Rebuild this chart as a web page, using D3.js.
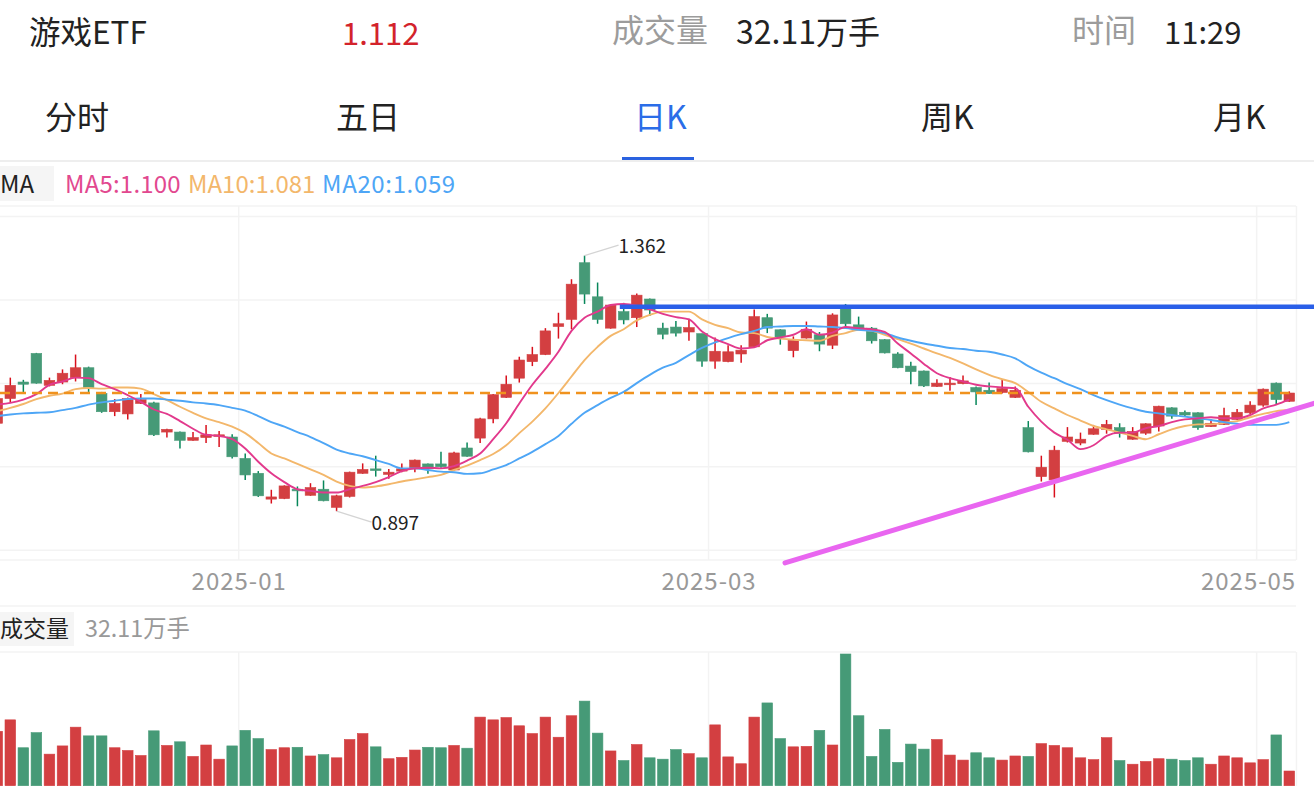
<!DOCTYPE html>
<html>
<head>
<meta charset="utf-8">
<script src="https://cdn.jsdelivr.net/npm/d3@7/dist/d3.min.js"></script>
<style>
html,body{margin:0;padding:0;background:#fff;overflow:hidden}
svg{display:block}
text{font-family:"Noto Sans CJK SC","Noto Sans",sans-serif}
</style>
</head>
<body>
<svg id="grafico" width="1314" height="802"></svg>
<script>
// valores (100 pregões, preço e volume em 万手)
const opens = [1.057,1.102,1.132,1.184,1.126,1.132,1.140,1.158,1.111,1.078,
  1.074,1.093,1.094,1.041,1.041,1.026,1.031,1.033,1.032,0.993,
  0.966,0.919,0.920,0.937,0.926,0.937,0.904,0.924,0.966,0.974,
  0.964,0.970,0.974,0.983,0.983,0.972,1.012,1.030,1.065,1.104,
  1.139,1.169,1.182,1.233,1.246,1.349,1.287,1.230,1.260,1.249,
  1.283,1.230,1.232,1.223,1.220,1.170,1.169,1.183,1.196,1.249,
  1.227,1.189,1.212,1.218,1.199,1.269,1.236,1.230,1.209,1.183,
  1.161,1.152,1.124,1.127,1.129,1.122,1.117,1.113,1.104,1.049,
  0.960,0.954,1.024,1.021,1.037,1.046,1.049,1.028,1.039,1.052,
  1.085,1.077,1.076,1.051,1.055,1.064,1.076,1.090,1.130,1.097];
const closes = [1.102,1.126,1.128,1.130,1.135,1.148,1.158,1.122,1.078,1.093,
  1.102,1.100,1.036,1.046,1.026,1.031,1.036,1.036,0.996,0.963,
  0.925,0.923,0.943,0.934,0.940,0.916,0.925,0.968,0.973,0.971,
  0.968,0.974,0.990,0.974,0.978,1.003,0.997,1.065,1.109,1.128,
  1.172,1.182,1.225,1.238,1.310,1.292,1.246,1.272,1.245,1.290,
  1.263,1.219,1.221,1.231,1.170,1.188,1.187,1.190,1.251,1.230,
  1.214,1.208,1.228,1.201,1.254,1.238,1.229,1.207,1.185,1.158,
  1.151,1.125,1.130,1.130,1.134,1.114,1.111,1.120,1.117,1.005,
  0.977,1.008,1.032,1.028,1.047,1.055,1.039,1.042,1.056,1.088,
  1.070,1.072,1.049,1.057,1.071,1.077,1.090,1.119,1.100,1.112];
const highs = [1.105,1.140,1.136,1.185,1.140,1.155,1.182,1.160,1.114,1.101,
  1.104,1.110,1.096,1.047,1.042,1.041,1.054,1.043,1.037,1.002,
  0.970,0.936,0.944,0.942,0.948,0.953,0.927,0.969,0.984,0.998,
  0.974,0.984,0.991,0.984,1.005,1.005,1.022,1.067,1.110,1.144,
  1.178,1.196,1.230,1.258,1.319,1.362,1.313,1.273,1.276,1.293,
  1.284,1.240,1.243,1.247,1.220,1.213,1.199,1.199,1.264,1.256,
  1.228,1.215,1.242,1.223,1.257,1.274,1.251,1.232,1.210,1.186,
  1.169,1.153,1.137,1.141,1.144,1.124,1.131,1.136,1.124,1.061,
  0.998,1.016,1.050,1.040,1.054,1.063,1.057,1.050,1.057,1.089,
  1.086,1.080,1.077,1.064,1.085,1.083,1.097,1.120,1.131,1.115];
const lows = [1.054,1.095,1.113,1.129,1.124,1.128,1.133,1.114,1.076,1.070,
  1.064,1.092,1.034,1.031,1.011,1.025,1.021,1.014,0.993,0.954,
  0.923,0.911,0.919,0.906,0.925,0.915,0.897,0.922,0.965,0.960,
  0.956,0.968,0.968,0.965,0.976,0.971,0.996,1.021,1.057,1.103,
  1.131,1.161,1.181,1.211,1.228,1.274,1.238,1.229,1.237,1.232,
  1.252,1.210,1.215,1.207,1.160,1.156,1.168,1.167,1.195,1.221,
  1.200,1.177,1.211,1.188,1.192,1.232,1.228,1.202,1.184,1.157,
  1.128,1.123,1.123,1.116,1.128,1.090,1.110,1.111,1.103,1.004,
  0.951,0.922,1.022,1.017,1.036,1.038,1.031,1.027,1.036,1.042,
  1.065,1.069,1.045,1.050,1.054,1.063,1.074,1.087,1.092,1.096];
const volumes = [119,144,83,116,69,87,128,109,109,83,
  77,66,120,88,96,64,89,58,87,121,
  103,79,83,84,65,68,61,101,114,85,
  59,62,78,84,83,88,82,150,144,149,
  131,114,150,106,153,185,115,76,55,90,
  61,58,79,70,61,133,63,48,150,181,
  103,85,86,121,89,288,153,64,123,51,
  91,80,101,67,56,72,61,56,65,64,
  92,88,83,61,57,105,55,47,53,59,
  58,55,61,47,65,61,50,57,111,32.11];
const ma5 = [1.091,1.094,1.100,1.110,1.127,1.133,1.140,1.139,1.128,1.119,
  1.108,1.096,1.082,1.074,1.061,1.047,1.036,1.034,1.028,1.011,
  0.987,0.966,0.950,0.937,0.934,0.931,0.931,0.937,0.943,0.950,
  0.959,0.970,0.975,0.976,0.975,0.979,0.989,1.002,1.028,1.057,
  1.093,1.127,1.156,1.187,1.225,1.249,1.260,1.272,1.274,1.271,
  1.264,1.256,1.250,1.246,1.224,1.210,1.201,1.193,1.195,1.208,
  1.213,1.218,1.228,1.218,1.222,1.232,1.230,1.228,1.223,1.202,
  1.184,1.165,1.148,1.139,1.133,1.127,1.124,1.122,1.121,1.087,
  1.060,1.040,1.027,1.010,1.017,1.034,1.040,1.040,1.048,1.052,
  1.059,1.064,1.066,1.068,1.066,1.066,1.072,1.084,1.091,1.100];
const ma10 = [1.079,1.085,1.092,1.101,1.107,1.111,1.119,1.121,1.120,1.122,
  1.122,1.120,1.110,1.099,1.087,1.076,1.066,1.059,1.051,1.039,
  1.021,1.002,0.993,0.983,0.973,0.963,0.951,0.943,0.940,0.942,
  0.946,0.951,0.955,0.959,0.963,0.972,0.980,0.990,1.001,1.017,
  1.039,1.060,1.084,1.112,1.142,1.172,1.196,1.216,1.228,1.244,
  1.254,1.260,1.260,1.260,1.246,1.236,1.230,1.222,1.221,1.214,
  1.211,1.209,1.208,1.207,1.216,1.221,1.227,1.225,1.218,1.210,
  1.202,1.193,1.184,1.176,1.166,1.155,1.145,1.137,1.130,1.114,
  1.096,1.084,1.072,1.062,1.052,1.046,1.040,1.034,1.028,1.037,
  1.046,1.052,1.055,1.055,1.058,1.061,1.068,1.074,1.079,1.081];
const ma20 = [1.070,1.073,1.075,1.076,1.077,1.081,1.085,1.091,1.095,1.098,
  1.101,1.102,1.102,1.100,1.098,1.095,1.093,1.090,1.085,1.080,
  1.070,1.059,1.051,1.041,1.032,1.021,1.009,1.002,0.997,0.990,
  0.983,0.975,0.975,0.972,0.969,0.968,0.965,0.966,0.973,0.981,
  0.993,1.005,1.019,1.034,1.056,1.076,1.090,1.103,1.114,1.130,
  1.145,1.158,1.167,1.181,1.194,1.204,1.212,1.219,1.225,1.232,
  1.233,1.234,1.234,1.233,1.232,1.230,1.227,1.225,1.221,1.213,
  1.207,1.202,1.198,1.194,1.192,1.189,1.187,1.182,1.175,1.161,
  1.149,1.139,1.128,1.119,1.108,1.099,1.091,1.084,1.078,1.075,
  1.072,1.069,1.066,1.063,1.059,1.056,1.054,1.054,1.054,1.059];

const gridPrices = [1.434,1.282,1.130,0.979,0.827];
const monthTicks = [18.5,54.5,96.5];
const monthLabels = ["2025-01","2025-03","2025-05"];
const lastPrice = 1.112;
const maxIndex = 45, minIndex = 26;

// linhas desenhadas à mão no print: [índice, preço]
const blueLine = [[47.7,1.269],[101,1.269]];
const pinkLine = [[60.36,0.803],[101,1.094]];

const indices = d3.range(opens.length);
const vermelho = "#d33f41", verde = "#469a77";
const corPavioV = "#d9101c", corPavioG = "#07875a";

const svg = d3.select("#grafico");

const x = d3.scaleLinear().domain([0,99]).range([-2.75,1289.3]);
const y = d3.scaleLinear().domain([0.827,1.434]).range([549.7,216]);
const yVol = d3.scaleLinear().domain([0,288]).range([785.7,654]);

const corGrade = "#f3f3f3";

// cabeçalho
function texto(t, px, py, tam, cor, extra){
  let el = svg.append("text").attr("x",px).attr("y",py).attr("font-size",tam)
    .attr("fill",cor).attr("dominant-baseline","central").text(t);
  if(extra) extra(el);
  return el;
}
texto("游戏ETF",29,30,31.5,"#222");
texto("1.112",342,31,31,"#d3232b",e=>e.attr("font-family","Roboto"));
texto("成交量",612,28,32,"#9c9c9c");
texto("32.11万手",736,30,32,"#222");
texto("时间",1072,28,32,"#9c9c9c");
texto("11:29",1164,30,31,"#222");

const abas = [["分时",45,"#222"],["五日",336,"#222"],["日K",634,"#2b6de8"],["周K",921,"#222"],["月K",1213,"#222"]];
abas.forEach(a=>texto(a[0],a[1],115,32,a[2]));
svg.append("rect").attr("x",0).attr("y",160).attr("width",1314).attr("height",2).attr("fill","#eeeeee");
svg.append("rect").attr("x",622).attr("y",157).attr("width",72).attr("height",3).attr("fill","#2a62e0");

// legenda
svg.append("rect").attr("x",0).attr("y",166).attr("width",54).attr("height",35).attr("fill","#f5f5f5");
texto("MA",0,182,24,"#222");
texto("MA5:1.100",65,182,24,"#e2488f",e=>e.attr("letter-spacing",0.2));
texto("MA10:1.081",188,182,24,"#f3b76b");
texto("MA20:1.059",322,182,24,"#4ea6f6",e=>e.attr("letter-spacing",0.65));

// grade do painel de preços
function linhaH(py, x2){
  svg.append("line").attr("x1",0).attr("x2",x2||1296).attr("y1",py).attr("y2",py)
    .attr("stroke",corGrade).attr("stroke-width",1.5);
}
linhaH(206); linhaH(560); linhaH(606); linhaH(652);
svg.append("g").call(d3.axisRight(y).tickValues(gridPrices).tickSize(1296).tickFormat(""))
  .call(g=>g.select(".domain").remove())
  .call(g=>g.selectAll("line").attr("stroke",corGrade).attr("stroke-width",1.5));

function linhasV(y1,y2){
  monthTicks.concat([99.55]).forEach(t=>{
    svg.append("line").attr("x1",x(t)).attr("x2",x(t)).attr("y1",y1).attr("y2",y2)
      .attr("stroke",corGrade).attr("stroke-width",1.5);
  });
}
linhasV(206,560);
linhasV(652,786);

// eixo de datas
const eixo = d3.axisBottom(x).tickValues(monthTicks).tickSize(0)
  .tickFormat((d,i)=>monthLabels[i]);
svg.append("g").attr("transform","translate(0,560)").call(eixo)
  .call(g=>g.select(".domain").remove())
  .call(g=>g.selectAll("text").attr("font-size",24).attr("fill","#999")
    .attr("font-family","Roboto").attr("letter-spacing",1).attr("y",13))
  .call(g=>g.selectAll("text").filter((d,i)=>i==2).attr("text-anchor","end").attr("x",39));

// candles
const larg = 10.6;
const cor = i => closes[i] >= opens[i] ? vermelho : verde;
const corPavio = i => closes[i] >= opens[i] ? corPavioV : corPavioG;

svg.append("g").selectAll("line").data(indices).enter().append("line")
  .attr("x1",i=>x(i)).attr("x2",i=>x(i))
  .attr("y1",i=>y(highs[i])).attr("y2",i=>y(lows[i]))
  .attr("stroke",corPavio).attr("stroke-width",1.5);

svg.append("g").selectAll("rect").data(indices).enter().append("rect")
  .attr("x",i=>x(i)-larg/2).attr("width",larg)
  .attr("y",i=>y(Math.max(opens[i],closes[i])))
  .attr("height",i=>Math.max(1.5,Math.abs(y(opens[i])-y(closes[i]))))
  .attr("fill",cor).attr("stroke",cor).attr("stroke-width",0.6);

// médias móveis
const linha = d3.line().x((d,i)=>x(i)).y(d=>y(d)).curve(d3.curveMonotoneX);
[[ma10,"#f3b76b"],[ma20,"#4ea6f6"],[ma5,"#e2398c"]].forEach(s=>{
  svg.append("path").attr("d",linha(s[0])).attr("fill","none")
    .attr("stroke",s[1]).attr("stroke-width",1.9);
});

// preço atual
svg.append("line").attr("x1",0).attr("x2",x(99)).attr("y1",y(lastPrice)).attr("y2",y(lastPrice))
  .attr("stroke","#f0921e").attr("stroke-width",2.4).attr("stroke-dasharray","10 6");

// máxima e mínima
svg.append("line").attr("x1",x(maxIndex)).attr("y1",y(highs[maxIndex]))
  .attr("x2",x(maxIndex)+34).attr("y2",y(highs[maxIndex])-10.5)
  .attr("stroke","#d4d4d4").attr("stroke-width",1.3);
texto("1.362",x(maxIndex)+34,244,19,"#222");
svg.append("line").attr("x1",x(minIndex)).attr("y1",y(lows[minIndex]))
  .attr("x2",x(minIndex)+35).attr("y2",y(lows[minIndex])+11)
  .attr("stroke","#d4d4d4").attr("stroke-width",1.3);
texto("0.897",x(minIndex)+35,521,19,"#222");

// linhas do usuário
const reta = d3.line().x(d=>x(d[0])).y(d=>y(d[1]));
svg.append("path").attr("d",reta(blueLine)).attr("stroke","#2a5fe8").attr("stroke-width",4.5).attr("fill","none");
svg.append("path").attr("d",reta(pinkLine)).attr("stroke","#e966f0").attr("stroke-width",5).attr("fill","none")
  .attr("stroke-linecap","round");

// painel de volume
svg.append("rect").attr("x",0).attr("y",612).attr("width",74).attr("height",34).attr("fill","#f5f5f5");
texto("成交量",0,627,23,"#222");
texto("32.11万手",85,627,23.3,"#999");

svg.append("g").selectAll("rect").data(indices).enter().append("rect")
  .attr("x",i=>x(i)-larg/2).attr("width",larg)
  .attr("y",i=>yVol(volumes[i])).attr("height",i=>yVol(0)-yVol(volumes[i]))
  .attr("fill",cor).attr("stroke",cor).attr("stroke-width",0.6);
</script>
</body>
</html>
